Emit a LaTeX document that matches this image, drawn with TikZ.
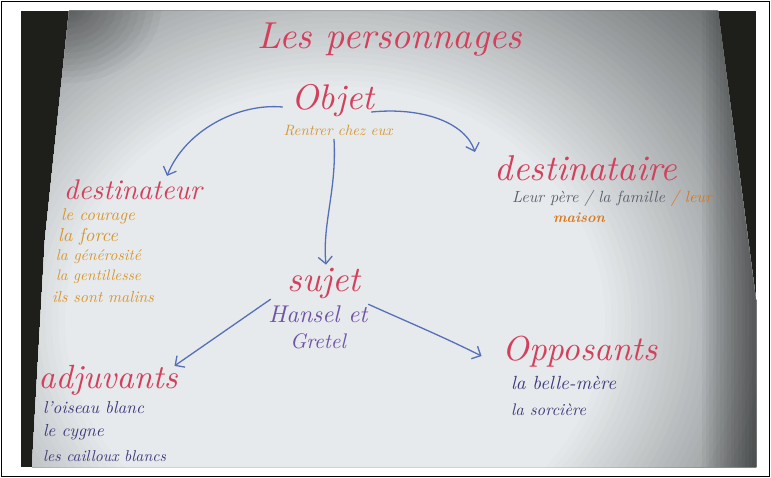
\documentclass[tikz,border=0pt]{standalone}
\usepackage{graphicx}
\usetikzlibrary{arrows.meta}
\definecolor{inkred}{HTML}{D3405C}
\definecolor{inkorange}{HTML}{D8962F}
\definecolor{inkorange2}{HTML}{D9781E}
\definecolor{inkgray}{HTML}{5E6070}
\definecolor{inkblue}{HTML}{5570B8}
\definecolor{inkpurple}{HTML}{7052A6}
\definecolor{inknavy}{HTML}{3E3A7C}
\definecolor{photodark}{HTML}{1E1E1B}
\definecolor{paperhi}{HTML}{E7EAEC}
\definecolor{paperlo}{HTML}{4A4E4F}
\newcommand{\fitw}[2]{\resizebox{#1pt}{!}{\itshape #2}}
\tikzset{
  lbl/.style={inner sep=1pt, outer sep=0pt},
  head/.style={lbl, text=inkred},
  arr/.style={draw=inkblue, line width=1.3pt, line cap=round,
    -{Straight Barb[length=7pt,width=14pt,line width=1.3pt]}},
}
\begin{document}
\begin{tikzpicture}[x=1pt,y=-1pt]
\useasboundingbox (0,0) rectangle (771,478);
\fill[white] (0,0) rectangle (771,478);
\fill[photodark] (21,11) rectangle (756,467);
\begin{scope}
  \clip (69,11) -- (718,11) -- (756,300) -- (756,467) -- (32,467) -- (45,240) -- cycle;
  \fill[paperlo] (21,11) rectangle (756,467);
  \foreach \i in {0,...,50}{
    \pgfmathsetmacro\rr{1-\i/50*0.55}
    \pgfmathsetmacro\pp{(1-\rr)/0.55*100}
    \fill[paperhi!\pp!paperlo] (335,320) ellipse ({600*\rr} and {520*\rr});
  }
  % darker right side
  \foreach \j in {0,...,15}{
    \fill[black, opacity=0.035] ({702+3.6*\j},11) rectangle (760,467);
  }
  % darker top-left corner
  \foreach \j in {0,...,11}{
    \fill[black, opacity=0.03] (66,8) ellipse ({95-7.5*\j} and {75-6*\j});
  }
\end{scope}
\draw[line width=1.5pt] (1.5,1.5) rectangle (769.5,476.5);

% titles
\node[head] (titre) at (390,40) {\fitw{264}{Les personnages}};
\node[head] (objet) at (333,101) {\fitw{83}{Objet}};
\node[lbl, text=inkorange] (rentrer) at (338,130) {\fitw{109}{Rentrer chez eux}};

\node[head] (destinateur) at (133,190) {\fitw{138}{destinateur}};
\node[lbl, text=inkorange, anchor=west] (d1) at (60,216) {\fitw{74}{le courage}};
\node[lbl, text=inkorange, anchor=west] (d2) at (57,237) {\fitw{60}{la force}};
\node[lbl, text=inkorange, anchor=west] (d3) at (55,257) {\fitw{85}{la générosité}};
\node[lbl, text=inkorange, anchor=west] (d4) at (55,277) {\fitw{85}{la gentillesse}};
\node[lbl, text=inkorange, anchor=west] (d5) at (51,297) {\fitw{102}{ils sont malins}};

\node[head] (destinataire) at (586,168) {\fitw{182}{destinataire}};
\node[lbl, anchor=west] (leur) at (511,198) {\fitw{200}{\textcolor{inkgray}{Leur père / la famille }\textcolor{inkorange2}{/ leur}}};
\node[lbl, text=inkorange2] (maison) at (579,218) {\fitw{52}{\bfseries maison}};

\node[head] (sujet) at (324,283) {\fitw{73}{sujet}};
\node[lbl, text=inkpurple] (hansel) at (318,314) {\fitw{99}{Hansel et}};
\node[lbl, text=inkpurple] (gretel) at (318,341) {\fitw{56}{Gretel}};

\node[head] (adjuvants) at (108,380) {\fitw{139}{adjuvants}};
\node[lbl, text=inknavy, anchor=west] (a1) at (42,408) {\fitw{101}{l'oiseau blanc}};
\node[lbl, text=inknavy, anchor=west] (a2) at (42,432) {\fitw{61}{le cygne}};
\node[lbl, text=inknavy, anchor=west] (a3) at (42,456) {\fitw{123}{les cailloux blancs}};

\node[head] (opposants) at (580,352) {\fitw{155}{Opposants}};
\node[lbl, text=inknavy, anchor=west] (o1) at (510,383) {\fitw{105}{la belle-mère}};
\node[lbl, text=inknavy, anchor=west] (o2) at (510,410) {\fitw{75}{la sorcière}};

% connectors
\draw[arr] ([shift={(-8,6)}]objet.west) .. controls +(-45,-4) and +(18,-45) .. ([shift={(34,-3)}]destinateur.north);
\draw[arr] ([shift={(-4,11)}]objet.east) .. controls +(50,-5) and +(-10,-30) .. ([shift={(-19,-16)}]destinataire.west);
\draw[arr] ([shift={(-4,3)}]rentrer.south) .. controls +(3,50) and +(-4,-40) .. ([shift={(2,-2)}]sujet.north);
\draw[arr] ([shift={(-16,0)}]sujet.south west) -- ([shift={(137,2)}]adjuvants.north west);
\draw[arr] ([shift={(7,5)}]sujet.south east) .. controls +(40,18) and +(-40,-20) .. ([shift={(-20,4)}]opposants.west);
\end{tikzpicture}
\end{document}
